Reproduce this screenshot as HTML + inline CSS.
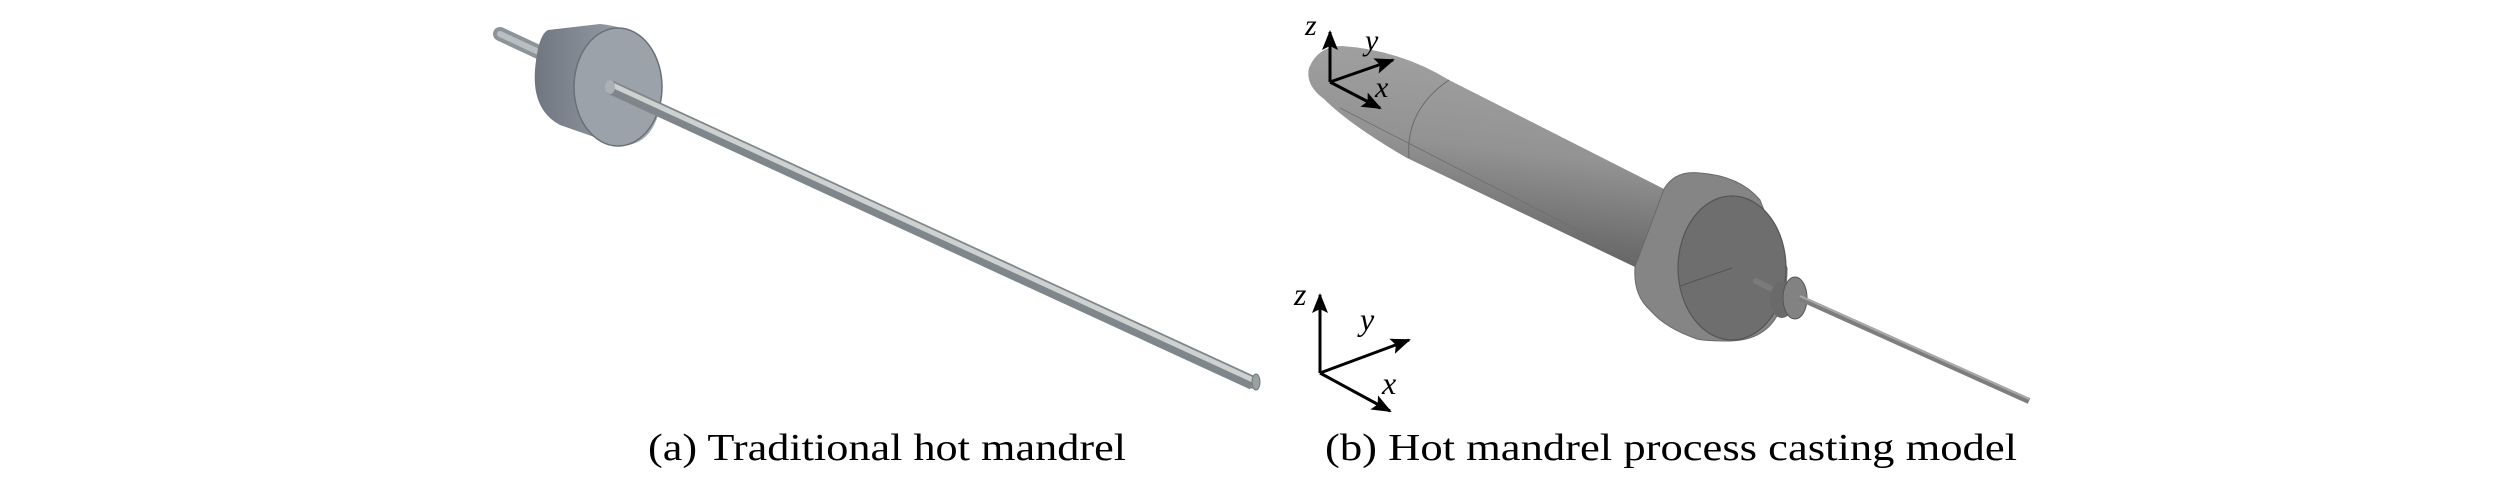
<!DOCTYPE html>
<html><head><meta charset="utf-8"><style>
html,body{margin:0;padding:0;background:#fff;}
svg{display:block;}
text{font-family:"Liberation Serif",serif;fill:#000;}
</style></head><body>
<svg width="2520" height="485" viewBox="0 0 2520 485" xmlns="http://www.w3.org/2000/svg">
<defs>
<linearGradient id="rodA" x1="0" y1="0" x2="0.45" y2="-0.9">
<stop offset="0" stop-color="#7f878c"/><stop offset="0.5" stop-color="#c9cecc"/><stop offset="1" stop-color="#9aa1a4"/>
</linearGradient>
<linearGradient id="discA" x1="0" y1="0" x2="1" y2="0">
<stop offset="0" stop-color="#6f7680"/><stop offset="1" stop-color="#a7adb4"/>
</linearGradient>
<linearGradient id="bodyB" x1="0.35" y1="1" x2="0.55" y2="0">
<stop offset="0" stop-color="#5a5a5a"/><stop offset="0.55" stop-color="#939393"/><stop offset="1" stop-color="#a2a2a2"/>
</linearGradient>
<marker id="ar2" markerWidth="20" markerHeight="16" refX="18" refY="8" orient="auto" markerUnits="userSpaceOnUse" viewBox="0 0 20 16">
<path d="M0,0 L20,8 L0,16 L4,8 z" fill="#000"/></marker>
</defs>

<!-- (a) Traditional hot mandrel -->
<line x1="500" y1="34" x2="560" y2="62" stroke="#8c949a" stroke-width="14" stroke-linecap="round"/>
<line x1="500" y1="34" x2="560" y2="62" stroke="#b9bfc0" stroke-width="6" stroke-linecap="round"/>
<path d="M548,30 L600,24 Q662,30 662,88 Q660,145 620,146 L560,125 Q532,110 535,70 Q538,35 548,30 z" fill="url(#discA)"/>
<ellipse cx="618" cy="87" rx="44" ry="59" fill="#9ca2aa" stroke="#6a7078" stroke-width="1.5"/>
<line x1="610" y1="87" x2="1253" y2="383" stroke="url(#rodA)" stroke-width="14"/>
<line x1="610" y1="84" x2="1253" y2="380" stroke="#cdd2d1" stroke-width="5"/>
<line x1="613" y1="93" x2="1253" y2="388" stroke="#7e868a" stroke-width="2"/>
<ellipse cx="610" cy="87" rx="5" ry="7" fill="#aab0b3"/>
<ellipse cx="1256" cy="382" rx="4" ry="8" fill="#9aa1a5" stroke="#6f777b" stroke-width="1"/>

<!-- (b) casting model -->
<path d="M1342,46 Q1400,50 1449,80 L1664,189 L1635,267 L1407,158 Q1350,125 1324,99 Q1305,85 1309,68 Q1318,46 1342,46 z" fill="url(#bodyB)"/>
<path d="M1449,80 Q1405,110 1409,158" fill="none" stroke="#6a6a6a" stroke-width="1"/>
<line x1="1340" y1="108" x2="1640" y2="262" stroke="#6e6e6e" stroke-width="0.8"/>
<!-- flange -->
<path d="M1664,189 Q1675,170 1700,173 Q1740,176 1760,200 L1787,268 Q1787,340 1730,341 Q1705,341 1697,339 Q1665,328 1650,310 Q1633,295 1635,267 z" fill="#858585" stroke="#6a6a6a" stroke-width="1"/>
<ellipse cx="1732" cy="268" rx="54" ry="72" fill="#6e6e6e" stroke="#555" stroke-width="1.2"/>
<line x1="1680" y1="286" x2="1732" y2="268" stroke="#555" stroke-width="1"/>
<!-- small stub and disc -->
<line x1="1756" y1="281" x2="1772" y2="289" stroke="#7a7a7a" stroke-width="6" stroke-linecap="round"/>
<ellipse cx="1782" cy="300" rx="12" ry="18" fill="#6a6a6a"/>
<ellipse cx="1795" cy="298" rx="12" ry="21" fill="#828282" stroke="#555" stroke-width="1"/>
<line x1="1800" y1="298" x2="2029" y2="401" stroke="#7d7d7d" stroke-width="6"/>
<line x1="1800" y1="296" x2="2029" y2="399" stroke="#a9a9a9" stroke-width="2"/>

<!-- axes top -->
<g stroke="#000" stroke-width="3" fill="none">
<line x1="1330" y1="82" x2="1330" y2="32" marker-end="url(#ar2)"/>
<line x1="1330" y1="82" x2="1393" y2="60" marker-end="url(#ar2)"/>
<line x1="1330" y1="82" x2="1380" y2="108" marker-end="url(#ar2)"/>
</g>
<text x="1305" y="35" font-size="30" font-style="italic">z</text>
<text x="1365" y="50" font-size="30" font-style="italic">y</text>
<text x="1375" y="97" font-size="30" font-style="italic">x</text>

<!-- axes bottom -->
<g stroke="#000" stroke-width="3" fill="none">
<line x1="1320" y1="373" x2="1320" y2="295" marker-end="url(#ar2)"/>
<line x1="1320" y1="373" x2="1409" y2="340" marker-end="url(#ar2)"/>
<line x1="1320" y1="373" x2="1390" y2="411" marker-end="url(#ar2)"/>
</g>
<text x="1294" y="305" font-size="32" font-style="italic">z</text>
<text x="1360" y="330" font-size="32" font-style="italic">y</text>
<text x="1382" y="394" font-size="32" font-style="italic">x</text>

<!-- captions -->
<text x="648" y="460" font-size="38" textLength="478" lengthAdjust="spacingAndGlyphs">(a) Traditional hot mandrel</text>
<text x="1325" y="460" font-size="38" textLength="692" lengthAdjust="spacingAndGlyphs">(b) Hot mandrel process casting model</text>
</svg>
</body></html>
